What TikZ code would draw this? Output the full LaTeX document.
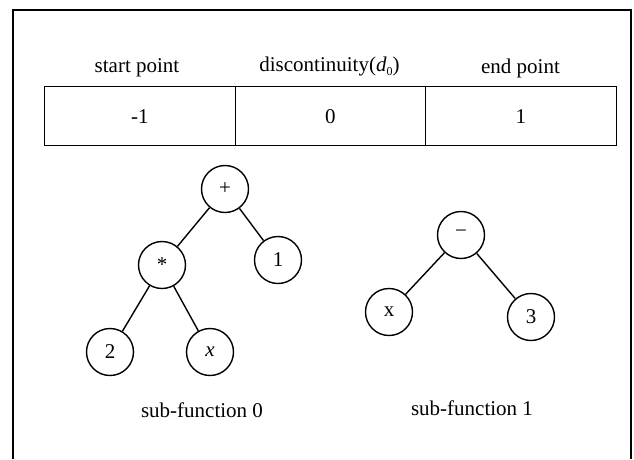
\documentclass[tikz,border=0pt]{standalone}
\usepackage{fontspec}
\setmainfont{Liberation Serif}
\begin{document}
\begin{tikzpicture}[x=1pt,y=-1pt,
  every node/.style={font=\fontsize{21}{23}\selectfont},
  tnode/.style={draw,circle,minimum size=47pt,inner sep=0pt,line width=1.4pt},
  edge/.style={line width=1.4pt},
  cell/.style={draw,line width=1.3pt,minimum width=190.5pt,minimum height=59pt,inner sep=0pt,anchor=north west}]
  \useasboundingbox (0,0) rectangle (634,459);
  % open frame: top and sides only
  \draw[line width=1.1pt] (13,459) -- (13,10) -- (631,10) -- (631,459);

  % header labels
  \node (h0) at (137,68) {start point};
  \node (h1) at (329.5,66) {discontinuity(\textit{d}\raisebox{-4pt}{\fontsize{12}{12}\selectfont 0})};
  \node (h2) at (520.5,68) {end point};

  % interval cells
  \node[cell] (c0) at (44,86) {-1};
  \node[cell] (c1) at (234.5,86) {0};
  \node[cell] (c2) at (425,86) {1};

  % sub-function 0: 2*x + 1
  \node[tnode] (plus) at (225,189) {+};
  \node[tnode] (mul) at (162,265) {*};
  \node[tnode] (one) at (278,260) {1};
  \node[tnode] (two) at (110,352) {2};
  \node[tnode] (xa) at (210,352) {\textit{x}};
  \draw[edge] (plus) -- (mul);
  \draw[edge] (plus) -- (one);
  \draw[edge] (mul) -- (two);
  \draw[edge] (mul) -- (xa);
  \node (s0) at (202,410) {sub-function 0};

  % sub-function 1: x - 3
  \node[tnode] (minus) at (461,235) {\raisebox{3pt}{\textminus}};
  \node[tnode] (xb) at (389,312) {x};
  \node[tnode] (three) at (531,317) {3};
  \draw[edge] (minus) -- (xb);
  \draw[edge] (minus) -- (three);
  \node (s1) at (472,408) {sub-function 1};
\end{tikzpicture}
\end{document}
